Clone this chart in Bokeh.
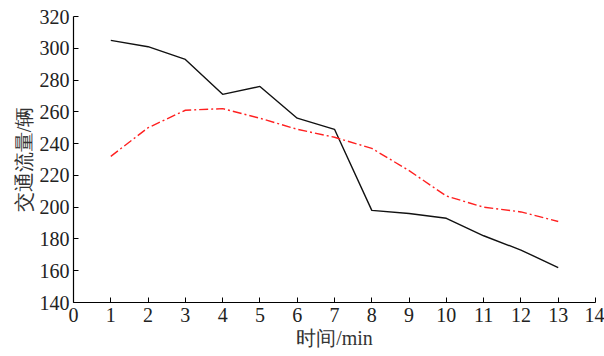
from bokeh.plotting import figure
from bokeh.models import Range1d, FixedTicker
from bokeh.embed import file_html
from bokeh.resources import INLINE

minutes = [1, 2, 3, 4, 5, 6, 7, 8, 9, 10, 11, 12, 13]
actual = [305, 301, 293, 271, 276, 256, 249, 198, 196, 193, 182, 173, 162]
predicted = [232, 250, 261, 262, 256, 249, 244, 237, 223, 207, 200, 197, 191]
x_ticks = list(range(0, 15))
y_ticks = list(range(140, 321, 20))

font = "'Liberation Serif', 'Times New Roman', serif"

p = figure(width=604, height=356, output_backend="svg", toolbar_location=None,
           x_range=Range1d(0, 14), y_range=Range1d(140, 320),
           min_border_left=73, min_border_right=9, min_border_top=16, min_border_bottom=54)
p.outline_line_color = None
p.grid.visible = False

p.line(minutes, actual, line_color="#111111", line_width=1.4)
p.line(minutes, predicted, line_color="#ff2020", line_width=1.4, line_dash="9 3 2 3")

for ax in (p.xaxis[0], p.yaxis[0]):
    ax.axis_line_color = "black"
    ax.axis_line_width = 1.2
    ax.major_tick_in = 5
    ax.major_tick_out = 0
    ax.minor_tick_line_color = None
    ax.major_tick_line_color = "black"
    ax.major_label_text_font = font
    ax.major_label_text_font_size = "20px"
    ax.major_label_text_color = "#222222"
    ax.axis_label_text_font = font
    ax.axis_label_text_font_size = "20px"
    ax.axis_label_text_font_style = "normal"
    ax.axis_label_text_color = "#333333"

p.xaxis[0].ticker = FixedTicker(ticks=x_ticks)
p.yaxis[0].ticker = FixedTicker(ticks=y_ticks)
p.xaxis[0].major_label_standoff = 5
p.yaxis[0].major_label_standoff = 4
p.xaxis[0].axis_label = "时间/min"
p.yaxis[0].axis_label = "交通流量/辆"
p.xaxis[0].axis_label_standoff = 2
p.yaxis[0].axis_label_standoff = 2

open("out.html", "w").write(file_html(p, INLINE))
